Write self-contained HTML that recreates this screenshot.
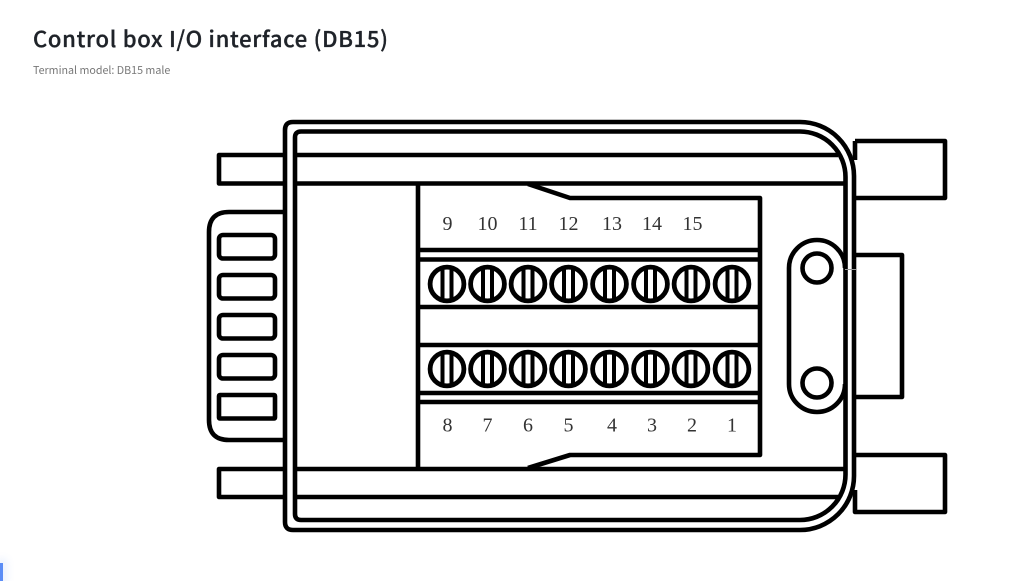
<!DOCTYPE html>
<html><head><meta charset="utf-8">
<style>
html,body{margin:0;padding:0;background:#fff;width:1024px;height:581px;overflow:hidden}
svg{position:absolute;left:0;top:0;filter:blur(.3px)}
.t{position:absolute;left:33px;top:22px;font:500 22px/32px "Noto Sans CJK KR","Noto Sans CJK SC",sans-serif;letter-spacing:.72px;-webkit-text-stroke:.35px #1f2329;color:#1f2329;white-space:nowrap}
.s{position:absolute;left:33px;top:62.6px;font:400 10.7px/16px "Noto Sans CJK KR","Noto Sans CJK SC",sans-serif;color:#777;white-space:nowrap}
.b{position:absolute;left:0;top:563px;width:3px;height:18px;background:#5b8df6;box-shadow:0 0 8px 4px rgba(91,141,246,.12)}
</style></head><body>
<div class="t">Control box I/O interface (DB15)</div>
<div class="s">Terminal model: DB15 male</div>
<div class="b"></div>
<svg width="1024" height="581" viewBox="0 0 1024 581" fill="none" stroke="#000" stroke-width="4.6" stroke-linejoin="round">
<defs>
<g id="sc">
<circle r="16.9" stroke-width="4.8"/>
<path d="M-4.5 -16V16M4.5 -16V16" stroke-width="4"/>
</g>
</defs>
<!-- outer frame -->
<path d="M800 122H293Q285 122 285 130V522Q285 530 293 530H800A54 54 0 0 0 854 476V176A54 54 0 0 0 800 122Z"/>
<!-- inner frame -->
<path d="M800 131.5H301Q295 131.5 295 137.5V514Q295 520 301 520H800A45.5 45.5 0 0 0 845.5 474.5V177A45.5 45.5 0 0 0 800 131.5Z"/>
<!-- horizontals -->
<path d="M285 155H219V183.5H285"/>
<path d="M295 155H838M295 183.5H845"/>
<path d="M285 469H219V497H285"/>
<path d="M295 469H845M295 497H838"/>
<!-- backshell -->
<path d="M285 212H229Q209 212 209 232V420Q209 440 229 440H285"/>
<rect x="219" y="235" width="56" height="23.5" rx="4"/>
<rect x="219" y="275" width="56" height="23.5" rx="4"/>
<rect x="219" y="315" width="56" height="23.5" rx="4"/>
<rect x="219" y="355" width="56" height="23.5" rx="4"/>
<rect x="219" y="395" width="56" height="23.5" rx="1"/>
<!-- terminal box -->
<path d="M418 183.5V469"/>
<path d="M528 184L570 198H760V455H570L528 468"/>
<path d="M418 250H760M418 259.5H760M418 307H760M418 345H760M418 393H760M418 402H760"/>
<!-- screws -->
<use href="#sc" x="447" y="284"/><use href="#sc" x="487.5" y="284"/><use href="#sc" x="528" y="284"/><use href="#sc" x="568.5" y="284"/><use href="#sc" x="609.5" y="284"/><use href="#sc" x="650.5" y="284"/><use href="#sc" x="691" y="284"/><use href="#sc" x="732" y="284"/>
<use href="#sc" x="447" y="369"/><use href="#sc" x="487.5" y="369"/><use href="#sc" x="528" y="369"/><use href="#sc" x="568.5" y="369"/><use href="#sc" x="609.5" y="369"/><use href="#sc" x="650.5" y="369"/><use href="#sc" x="691" y="369"/><use href="#sc" x="732" y="369"/>
<!-- slot -->
<path d="M845 268A28 28 0 0 0 789 268V384A28 28 0 0 0 845 384"/>
<circle cx="817" cy="268" r="14.5"/>
<circle cx="817" cy="383" r="14.5"/>
<path d="M845 269.5H856" stroke="#999" stroke-width="1"/>
<!-- right blocks -->
<path d="M855 141H945V198H856"/>
<path d="M855 141V160"/>
<path d="M856 255H902V397H856"/>
<path d="M856 455H945V512H855V490"/>
<g fill="#333" stroke="none" font-family="'Liberation Serif',serif" font-size="20" text-anchor="middle">
<text x="447.5" y="230">9</text><text x="487.5" y="230">10</text><text x="528" y="230">11</text><text x="568.5" y="230">12</text><text x="612" y="230">13</text><text x="652" y="230">14</text><text x="692.5" y="230">15</text>
<text x="447.5" y="431.5">8</text><text x="487.5" y="431.5">7</text><text x="528" y="431.5">6</text><text x="568.5" y="431.5">5</text><text x="612" y="431.5">4</text><text x="652" y="431.5">3</text><text x="692" y="431.5">2</text><text x="732" y="431.5">1</text>
</g>
</svg>
</body></html>
